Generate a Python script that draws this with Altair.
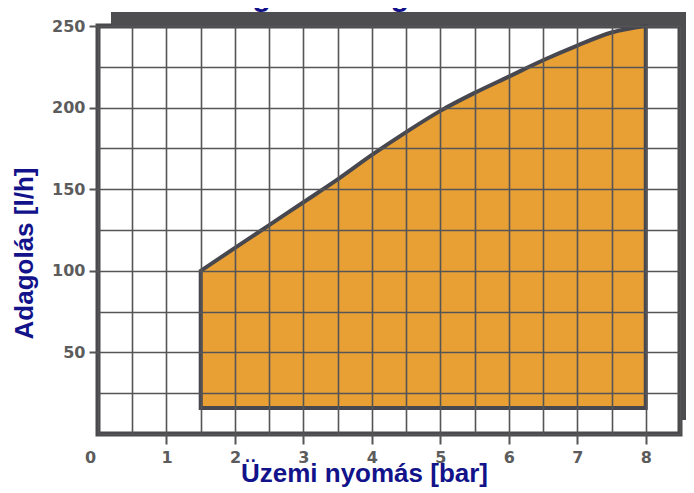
import altair as alt
import pandas as pd

# Operating range (shaded): pressure [bar] vs delivery [l/h]
pressure = [1.5, 2.0, 2.5, 3.0, 3.5, 4.0, 4.5, 5.0, 5.5, 6.0, 6.5, 7.0, 7.5, 8.0]
delivery_max = [100, 114, 128, 142, 156, 171, 185, 198, 209, 219, 229, 238, 246, 250]
delivery_min = [16] * len(pressure)

x_title = "Üzemi nyomás [bar]"
y_title = "Adagolás [l/h]"
chart_title = "Adagolási diagram"

df = pd.DataFrame({"p": pressure, "q": delivery_max, "q0": delivery_min})

W, H = 582, 408
NAVY = "#12128a"
GRID = "#555558"
ORANGE = "#E8A034"
LBL = "#5c5c5c"

x_scale = alt.Scale(domain=[0, 8.5], nice=False, zero=False)
y_scale = alt.Scale(domain=[0, 250], nice=False, zero=False)

x_axis = alt.Axis(
    values=[i * 0.5 for i in range(18)],
    labelExpr="datum.value % 1 === 0 && datum.value <= 8 ? format(datum.value, 'd') : ''",
    grid=True, gridColor=GRID, gridWidth=1.6, gridOpacity=1,
    domain=False,
    ticks=True, tickSize=10, tickWidth=2, tickColor=GRID,
    tickOpacity={"condition": {"test": "datum.value % 1 === 0 && datum.value > 0 && datum.value <= 8", "value": 1}, "value": 0},
    labelOffset={"condition": {"test": "datum.value === 0", "value": -8}, "value": 0},
    labelFont="DejaVu Sans", labelFontSize=16, labelFontWeight="bold", labelColor=LBL,
    labelPadding=5, labelFlush=False,
    title=x_title, titleFont="Liberation Sans", titleFontSize=26, titleFontWeight="bold",
    titleColor=NAVY, titleX=266, titleY=26, titleAnchor="middle", titleBaseline="top",
    zindex=1,
)
y_axis = alt.Axis(
    values=list(range(0, 251, 25)),
    labelExpr="datum.value % 50 === 0 && datum.value > 0 ? datum.label : ''",
    grid=True, gridColor=GRID, gridWidth=1.6, gridOpacity=1,
    domain=False,
    ticks=True, tickSize=9, tickWidth=2, tickColor=GRID,
    tickOpacity={"condition": {"test": "datum.value % 50 === 0 && datum.value > 0", "value": 1}, "value": 0},
    labelFont="DejaVu Sans", labelFontSize=16, labelFontWeight="bold", labelColor=LBL,
    labelPadding=4,
    title=y_title, titleFont="Liberation Sans", titleFontSize=26, titleFontWeight="bold",
    titleColor=NAVY, titleX=-61, titleY=227, titleAnchor="middle", titleBaseline="bottom",
    titleAngle=270,
    zindex=1,
)

base = alt.Chart(df)

# chart heading, mostly cut off by the top edge as in the reference
heading = alt.Chart(pd.DataFrame({"t": [chart_title]})).mark_text(
    font="Liberation Sans", fontSize=30, fontWeight="bold", color=NAVY,
    align="center", baseline="bottom",
).encode(text="t:N", x=alt.value(232), y=alt.value(-14))

# decorative frame shadow (top band and right band)
top_band = base.mark_rect(color="#4e4e50").encode(
    x=alt.value(13), x2=alt.value(W + 6), y=alt.value(-14), y2=alt.value(0)
)
right_band = base.mark_rect(color="#4e4e50").encode(
    x=alt.value(W), x2=alt.value(W + 6), y=alt.value(-14), y2=alt.value(H - 14)
)

area = base.mark_area(
    color=ORANGE, stroke="#47474f", strokeWidth=4, interpolate="monotone", opacity=1
).encode(
    x=alt.X("p:Q", scale=x_scale, axis=x_axis),
    y=alt.Y("q:Q", scale=y_scale, axis=y_axis),
    y2="q0:Q",
)

chart = alt.layer(heading, top_band, right_band, area).properties(
    width=W, height=H,
    autosize=alt.AutoSizeParams(type="none"),
    padding={"left": 90, "top": 18, "right": 6, "bottom": 57},
).configure_view(
    fill="white", stroke="#4a4a4c", strokeWidth=5
)

chart.save("out.html", embed_options={"renderer": "svg", "actions": False})
